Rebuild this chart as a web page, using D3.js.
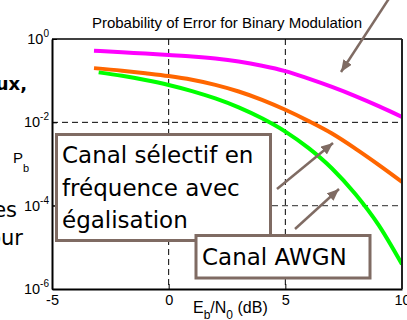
<!DOCTYPE html>
<html><head><meta charset="utf-8">
<script src="https://cdn.jsdelivr.net/npm/d3@7"></script>
<style>body{margin:0;background:#fff;overflow:hidden} svg{display:block}</style>
</head><body>
<svg id="c" width="407" height="320"></svg>
<script>
// ---- data ----
const titleText = "Probability of Error for Binary Modulation";
const xTicks = [-5, 0, 5, 10];
const xTickLabels = ["-5", "0", "5", "10"];
const yTicks = [1, 1e-2, 1e-4, 1e-6];
const yTickExps = ["0", "-2", "-4", "-6"];
const gridX = [0, 5];
const gridY = [1e-2, 1e-4];

const ebn0Magenta = [-3.2, -2, -1, 0, 1, 2, 3, 4, 5, 6, 7, 8, 9, 10];
const pbMagenta   = [0.525, 0.479, 0.447, 0.412, 0.380, 0.339, 0.288, 0.229, 0.170, 0.112, 0.0708, 0.0427, 0.0245, 0.0135];

const ebn0Orange = [-3.2, -2, -1, 0, 1, 2, 3, 4, 5, 6, 7, 8, 9, 10];
const pbOrange   = [0.20, 0.174, 0.151, 0.129, 0.105, 0.0794, 0.0550, 0.0347, 0.0200, 0.0107, 0.00537, 0.00234, 0.000955, 0.000372];

const ebn0Green = [-3, -2, -1, 0, 1, 2, 3, 4, 5, 6, 7, 8, 9, 10];
const pbGreen   = [0.158, 0.131, 0.104, 0.079, 0.0563, 0.0375, 0.0229, 0.0125, 0.0060, 0.0024, 0.00078, 0.00019, 0.000034, 0.0000039];

const box1Lines = ["Canal sélectif en", "fréquence avec", "égalisation"];
const box2Text = "Canal AWGN";
const bgTexts = [{t:"ux,", bold:true}, {t:"es", bold:false}, {t:"our", bold:false}];

// ---- layout ----
const L = 52, R = 402, T = 39, B = 289;
const brown = "#7f6b63";
const svg = d3.select("#c");
const x = d3.scaleLinear().domain([-5, 10]).range([L, R]);
const y = d3.scaleLog().domain([1e-6, 1]).range([B, T]);

// background slide text (behind)
const bg = svg.append("g").attr("font-family", "DejaVu Sans").attr("fill", "#000");
bg.append("text").attr("x", 27).attr("y", 90).attr("text-anchor", "end").attr("font-size", 18).attr("font-weight", "bold").text(bgTexts[0].t);
bg.append("text").attr("x", 17).attr("y", 217).attr("text-anchor", "end").attr("font-size", 21).text(bgTexts[1].t);
bg.append("text").attr("x", 23).attr("y", 245).attr("text-anchor", "end").attr("font-size", 21).text(bgTexts[2].t);

// plot background
svg.append("rect").attr("x", L).attr("y", T).attr("width", R - L).attr("height", B - T).attr("fill", "#fff");

// grid
const g = svg.append("g");
g.selectAll("line.gx").data(gridX).join("line")
  .attr("x1", d => x(d)).attr("x2", d => x(d)).attr("y1", T).attr("y2", B)
  .attr("stroke", "#000").attr("stroke-width", 1).attr("stroke-dasharray", "6,4");
g.selectAll("line.gy").data(gridY).join("line")
  .attr("x1", L).attr("x2", R).attr("y1", d => y(d)).attr("y2", d => y(d))
  .attr("stroke", (d, i) => i === 0 ? "#000" : "#555").attr("stroke-width", (d, i) => i === 0 ? 1 : 1.4).attr("stroke-dasharray", "6,4");

// clip
svg.append("clipPath").attr("id", "clip").append("rect").attr("x", L).attr("y", T - 3).attr("width", R - L).attr("height", B - T + 3);

const line = d3.line().x(d => x(d[0])).y(d => y(d[1])).curve(d3.curveMonotoneX);
const series = [
  {xs: ebn0Magenta, ys: pbMagenta, c: "#ff00ff"},
  {xs: ebn0Orange, ys: pbOrange, c: "#ff6600"},
  {xs: ebn0Green, ys: pbGreen, c: "#00ff00"}
];
svg.append("g").attr("clip-path", "url(#clip)").selectAll("path").data(series).join("path")
  .attr("d", s => line(s.xs.map((v, i) => [v, s.ys[i]])))
  .attr("fill", "none").attr("stroke", s => s.c).attr("stroke-width", 4).attr("stroke-linecap", "butt");

// axes
const xa = svg.append("g").attr("transform", `translate(0,${B})`)
  .call(d3.axisBottom(x).tickValues(xTicks).tickSizeInner(-5).tickSizeOuter(0).tickFormat((d, i) => xTickLabels[i]));
xa.select(".domain").attr("stroke-width", 2);
xa.selectAll(".tick line").attr("stroke-width", 1);
xa.selectAll(".tick text").attr("font-family", "Liberation Sans, Arial").attr("font-size", 14.5).attr("fill", "#000").attr("dy", null).attr("y", 16);

const ya = svg.append("g").attr("transform", `translate(${L},0)`)
  .call(d3.axisLeft(y).tickValues(yTicks).tickSizeInner(-5).tickSizeOuter(0).tickFormat(""));
ya.select(".domain").attr("stroke-width", 2);

// box top/right
svg.append("line").attr("x1", L).attr("x2", R).attr("y1", T).attr("y2", T).attr("stroke", "#000").attr("stroke-width", 1.5);
svg.append("line").attr("x1", R).attr("x2", R).attr("y1", T).attr("y2", B).attr("stroke", "#222").attr("stroke-width", 2);

// y tick labels with superscripts
const yl = svg.append("g").attr("font-family", "Liberation Sans, Arial").attr("fill", "#000");
yTicks.forEach((v, i) => {
  const t = yl.append("text").attr("x", 49).attr("y", y(v) + 5).attr("text-anchor", "end").attr("font-size", 14.5);
  t.append("tspan").text("10");
  t.append("tspan").attr("dy", -7).attr("font-size", 10).text(yTickExps[i]);
});

// axis labels
const xl = svg.append("text").attr("x", 193).attr("y", 313).attr("font-family", "Liberation Sans, Arial").attr("font-size", 16).attr("fill", "#000");
xl.append("tspan").text("E");
xl.append("tspan").attr("dy", 6).attr("font-size", 12).text("b");
xl.append("tspan").attr("dy", -6).text("/N");
xl.append("tspan").attr("dy", 6).attr("font-size", 12).text("0");
xl.append("tspan").attr("dy", -6).text(" (dB)");

const ylab = svg.append("text").attr("x", 13).attr("y", 163).attr("font-family", "Liberation Sans, Arial").attr("font-size", 15).attr("fill", "#000");
ylab.append("tspan").text("P");
ylab.append("tspan").attr("dy", 9).attr("font-size", 11).text("b");

// title
svg.append("text").attr("x", (L + R) / 2).attr("y", 28).attr("text-anchor", "middle")
  .attr("font-family", "Liberation Sans, Arial").attr("font-size", 15).attr("fill", "#000").text(titleText);

// annotation boxes
svg.append("rect").attr("x", 56.5).attr("y", 134.5).attr("width", 214).attr("height", 106)
  .attr("fill", "#fff").attr("stroke", brown).attr("stroke-width", 3);
const bt = svg.append("g").attr("font-family", "DejaVu Sans").attr("font-size", 23).attr("fill", "#000");
box1Lines.forEach((s, i) => bt.append("text").attr("x", 62).attr("y", 163 + i * 32.7).text(s));

svg.append("rect").attr("x", 196).attr("y", 235.5).attr("width", 174).attr("height", 42.5)
  .attr("fill", "#fff").attr("stroke", brown).attr("stroke-width", 3);
bt.raise();
svg.append("text").attr("x", 202).attr("y", 265).attr("font-family", "DejaVu Sans").attr("font-size", 23).attr("fill", "#000").text(box2Text);

// arrows
const defs = svg.append("defs");
defs.append("marker").attr("id", "ah").attr("markerUnits", "userSpaceOnUse")
  .attr("markerWidth", 13).attr("markerHeight", 10).attr("refX", 12).attr("refY", 5).attr("orient", "auto")
  .append("path").attr("d", "M0,0 L12,5 L0,10 Z").attr("fill", brown);
const arrows = [[390, -3, 341, 72], [277, 189, 333, 143], [295, 229, 339, 189]];
svg.append("g").selectAll("line").data(arrows).join("line")
  .attr("x1", d => d[0]).attr("y1", d => d[1]).attr("x2", d => d[2]).attr("y2", d => d[3])
  .attr("stroke", brown).attr("stroke-width", 2.5).attr("marker-end", "url(#ah)");
</script>
</body></html>
